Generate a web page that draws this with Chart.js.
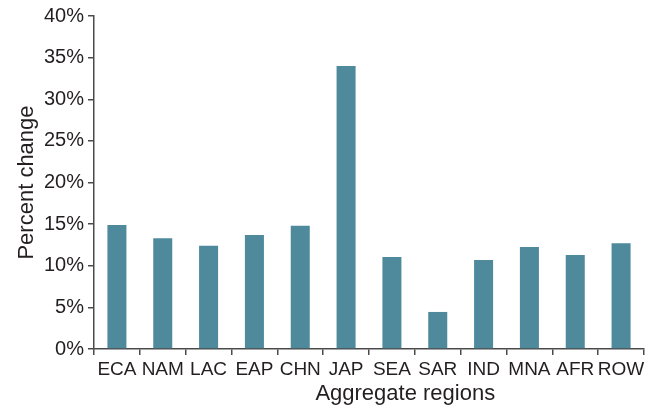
<!DOCTYPE html>
<html>
<head>
<meta charset="utf-8">
<script src="https://cdn.jsdelivr.net/npm/chart.js@4/dist/chart.umd.min.js"></script>
<style>
  html, body { margin: 0; padding: 0; background: #fff; }
  #wrap { width: 653px; height: 407px; position: relative; }
</style>
</head>
<body>
<div id="wrap"><canvas id="chart"></canvas></div>
<script>
// regions on the x axis
var regions = ['ECA', 'NAM', 'LAC', 'EAP', 'CHN', 'JAP', 'SEA', 'SAR', 'IND', 'MNA', 'AFR', 'ROW'];
// percent change per region
var pctChange = [14.9, 13.3, 12.4, 13.7, 14.8, 34.0, 11.05, 4.45, 10.7, 12.25, 11.3, 12.7];
// y ticks
var yMin = 0, yMax = 40, yStep = 5;

var ink = '#231f20';
var axisCol = '#4a4a4a';
var barCol = '#4e8a9c';
var fontFam = '"Liberation Sans", Arial, Helvetica, sans-serif';

Chart.defaults.font.family = fontFam;
Chart.defaults.color = ink;

// x axis title sits a little right of centre in the original
var xTitle = {
    id: 'xTitle',
    afterDraw: function (chart) {
        var ctx = chart.ctx, area = chart.chartArea;
        ctx.save();
        ctx.font = '22px ' + fontFam;
        ctx.fillStyle = ink;
        ctx.textAlign = 'center';
        ctx.textBaseline = 'alphabetic';
        ctx.fillText('Aggregate regions', area.left + (area.right - area.left) * 0.566, 400);
        ctx.restore();
    }
};

new Chart(document.getElementById('chart'), {
    type: 'bar',
    data: {
        labels: regions,
        datasets: [{
            data: pctChange,
            backgroundColor: barCol,
            borderWidth: 0,
            barPercentage: 0.83,
            categoryPercentage: 0.5
        }]
    },
    options: {
        responsive: true,
        maintainAspectRatio: false,
        animation: false,
        layout: { padding: { left: 14, right: 9, top: 16, bottom: 0 } },
        plugins: {
            legend: { display: false },
            tooltip: { enabled: false }
        },
        scales: {
            x: {
                grid: { display: true, drawOnChartArea: false, offset: true, tickLength: 6, color: axisCol, lineWidth: 1.5 },
                border: { display: true, color: axisCol, width: 1.5 },
                ticks: { color: ink, font: { size: 19 }, padding: 3, maxRotation: 0, autoSkip: false },
                title: { display: false },
                afterFit: function (scale) { scale.height = 58; }
            },
            y: {
                min: yMin,
                max: yMax,
                grid: { display: true, drawOnChartArea: false, tickLength: 6, color: axisCol, lineWidth: 1.5 },
                border: { display: true, color: axisCol, width: 1.5 },
                ticks: {
                    stepSize: yStep,
                    color: ink,
                    font: { size: 20 },
                    padding: 4,
                    callback: function (v) { return v + '%'; }
                },
                title: { display: true, text: 'Percent change', color: ink, font: { size: 22 }, padding: { top: 0, bottom: 2 } },
                afterFit: function (scale) { scale.width = 80; }
            }
        }
    },
    plugins: [xTitle]
});
</script>
</body>
</html>
